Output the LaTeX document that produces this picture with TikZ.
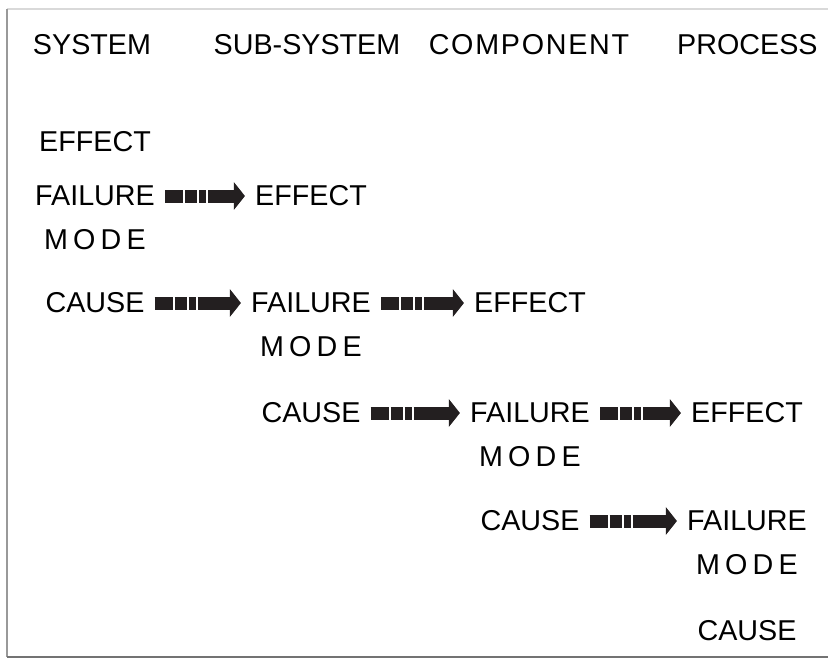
\documentclass[tikz,border=0pt]{standalone}
\usepackage{fontspec}
\setmainfont{Liberation Sans}
\usetikzlibrary{arrows.meta}
\definecolor{arrowink}{HTML}{231F20}

\tikzset{label text/.style={inner sep=0pt,font=\fontsize{24.5}{29}\selectfont}}
\tikzstyle{spaced}=[inner sep=0pt,font=\fontsize{24.5}{29}\selectfont\addfontfeature{LetterSpace=18}]
\tikzstyle{blockarrow}=[arrowink,line width=0.39cm,
	dash pattern=on 0.54cm off 0.06cm on 0.36cm off 0.06cm on 0.21cm off 0.06cm on 3cm,
	-{Triangle[length=0.33cm,width=0.81cm]},shorten <=0.3cm,shorten >=0.3cm]

\begin{document}
\begin{tikzpicture}[x=0.03cm,y=-0.03cm]
	\useasboundingbox (0,0) rectangle (828,663);
	% frame
	\draw[black!15,line width=0.05cm] (7,9) -- (850,9);
	\draw[black!40,line width=0.05cm] (7,9) -- (7,657);
	\draw[black!55,line width=0.06cm] (7,657) -- (850,657);

	\node[label text] (sysHead) at (92,45) {SYSTEM};
	\node[label text] (subHead) at (307,45) {SUB-SYSTEM};
	\node[spaced,font=\fontsize{24.5}{29}\selectfont\addfontfeature{LetterSpace=6}] (compHead) at (529,45) {COMPONENT};
	\node[label text,anchor=west] (procHead) at (677,45) {PROCESS};

	\foreach \nr/\x/\ya/\yb/\yc in {1/95/142/196/303, 2/311/196/303/413, 3/530/303/413/521, 4/747/413/521/631}{
		\node[label text] (E\nr) at (\x,\ya) {EFFECT};
		\node[label text] (F\nr) at (\x,\yb) {FAILURE};
		\node[spaced] (M\nr) at (\x,\yb+44) {MODE};
		\node[label text] (C\nr) at (\x,\yc) {CAUSE};
	}
	\foreach \nr/\nx in {1/2, 2/3, 3/4}{
		\draw[blockarrow] (F\nr) -- (E\nx);
		\draw[blockarrow] (C\nr) -- (F\nx);
	}
\end{tikzpicture}
\end{document}
